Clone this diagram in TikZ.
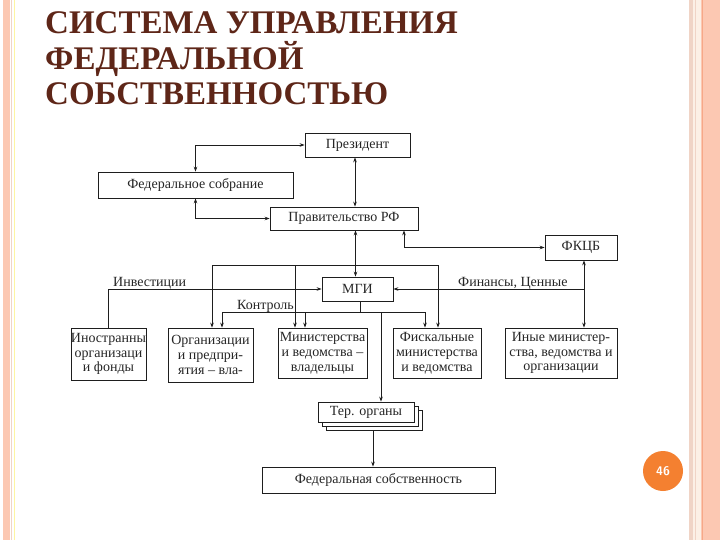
\documentclass[tikz,border=0pt]{standalone}
\usepackage{fontspec}
\setmainfont{Liberation Serif}
\usetikzlibrary{arrows.meta,calc}
\definecolor{titlec}{RGB}{94,38,24}
\definecolor{linec}{RGB}{30,30,30}
\definecolor{salmon}{RGB}{252,200,178}
\definecolor{salmondk}{RGB}{246,168,136}
\definecolor{palepink}{RGB}{240,212,198}
\definecolor{cream}{RGB}{252,240,230}
\definecolor{badge}{RGB}{244,128,48}
\begin{document}
\begin{tikzpicture}[x=1pt,y=-1pt,
  box/.style={draw=linec, line width=0.8pt, fill=white, inner sep=0pt, align=center,
    font=\fontsize{14}{14.8}\selectfont, text=black!85},
  arr/.style={draw=linec, line width=0.7pt, -{Stealth[length=5pt,width=3.6pt]}},
  darr/.style={draw=linec, line width=0.7pt, {Stealth[length=5pt,width=3.6pt]}-{Stealth[length=5pt,width=3.6pt]}},
  ln/.style={draw=linec, line width=0.7pt},
  lbl/.style={inner sep=0pt, font=\fontsize{14}{14}\selectfont, text=black!85},
  ttl/.style={inner sep=0pt, anchor=base west, text=titlec, font=\fontsize{33}{33}\bfseries\selectfont}
]
\useasboundingbox (0,0) rectangle (720,540);
\fill[white] (0,0) rectangle (720,540);
% borders
\fill[salmon] (3,0) rectangle (9.5,540);
\draw[palepink, line width=0.8pt] (11.5,0) -- (11.5,540);
\draw[cream!70!yellow, line width=0.8pt] (14.5,0) -- (14.5,540);
\fill[palepink] (688.5,0) rectangle (693,540);
\fill[cream] (693,0) rectangle (701,540);
\draw[palepink, line width=0.8pt] (695.5,0) -- (695.5,540);
\fill[salmon] (701,0) rectangle (720,540);
\draw[salmondk, line width=0.8pt] (702,0) -- (702,540);

% title
\node[ttl] (t1) at (45,34) {СИСТЕМА УПРАВЛЕНИЯ};
\node[ttl] (t2) at (45,69.5) {ФЕДЕРАЛЬНОЙ};
\node[ttl] (t3) at (45,105) {СОБСТВЕННОСТЬЮ};

% boxes
\node[box, minimum width=105pt, minimum height=24pt] (pres) at (357.5,145) {Президент};
\node[box, minimum width=195pt, minimum height=26pt] (fs) at (195.5,185) {Федеральное собрание};
\node[box, minimum width=148pt, minimum height=23pt] (gov) at (344,218.5) {Правительство РФ};
\node[box, minimum width=72pt, minimum height=25pt] (fkcb) at (581,247.5) {ФКЦБ};
\node[box, minimum width=71pt, minimum height=24pt] (mgi) at (357.5,289) {МГИ};
\node[box, minimum width=73pt, minimum height=52pt] (ino) at (108.5,354) {Иностранны\\организаци\\и фонды};
\node[box, minimum width=85pt, minimum height=54pt] (org) at (210.5,355) {Организации\\и предпри-\\ятия – вла-};
\node[box, minimum width=89pt, minimum height=50pt] (min) at (322.5,353) {Министерства\\и ведомства –\\владельцы};
\node[box, minimum width=88pt, minimum height=50pt] (fisc) at (437,353) {Фискальные\\министерства\\и ведомства};
\node[box, minimum width=112pt, minimum height=50pt] (other) at (561,353) {Иные министер-\\ства, ведомства и\\организации};
\node[box, minimum width=96pt, minimum height=20pt] (ter3) at (374,420) {};
\node[box, minimum width=96pt, minimum height=20pt] (ter2) at (370,416) {};
\node[box, minimum width=96pt, minimum height=20pt] (ter) at (366,412) {Тер. органы};
\node[box, minimum width=233pt, minimum height=26pt] (fed) at (378.5,480) {Федеральная собственность};

% labels
\node[lbl, anchor=base west] (linv) at (113,286) {Инвестиции};
\node[lbl, anchor=base west] (lctl) at (237,309) {Контроль};
\node[lbl, anchor=base west] (lfin) at (458,286) {Финансы, Ценные};

% connectors
\draw[darr] (pres.west) -| (fs.north);
\draw[darr] (fs.south) |- (gov.west);
\draw[darr] ([xshift=-2.5pt]pres.south) -- ([xshift=-2.5pt]pres.south |- gov.north);
\draw[darr] ([xshift=11.5pt]gov.south) -- ([xshift=11.5pt]gov.south |- mgi.north);
\draw[darr] ([xshift=60pt]gov.south) |- (fkcb.west);

\coordinate (bus) at (355,265);
\draw[arr] (bus) -| ([xshift=1.5pt]org.north);
\draw[arr] (bus) -| ([xshift=-27.5pt]min.north);
\draw[arr] (bus) -| ([xshift=1pt]fisc.north);

\draw[arr] (ino.north) |- (mgi.west);

\coordinate (fj) at (584,289);
\draw[arr] (fj) -- ([xshift=3pt]fkcb.south);
\draw[arr] (fj) -- (mgi.east);
\draw[arr] (fj) -- ([xshift=23pt]other.north);

\coordinate (ctl) at (360,312);
\draw[ln] ([xshift=2.5pt]mgi.south) -- (ctl);
\draw[arr] (ctl) -| ([xshift=11.5pt]org.north);
\draw[arr] (ctl) -| ([xshift=-17.5pt]min.north);
\draw[arr] (ctl) -| ([xshift=-12pt]fisc.north);
\draw[arr] (ctl) -| ([xshift=15pt]ter.north);

\draw[arr] ([xshift=-1pt]ter3.south) -- ([xshift=-1pt]ter3.south |- fed.north);

% page number
\node[circle, fill=badge, minimum size=40pt, inner sep=0pt, text=white,
  font=\fontsize{12.5}{12.5}\bfseries\sffamily\selectfont] (pg) at (663,471) {46};
\end{tikzpicture}
\end{document}
